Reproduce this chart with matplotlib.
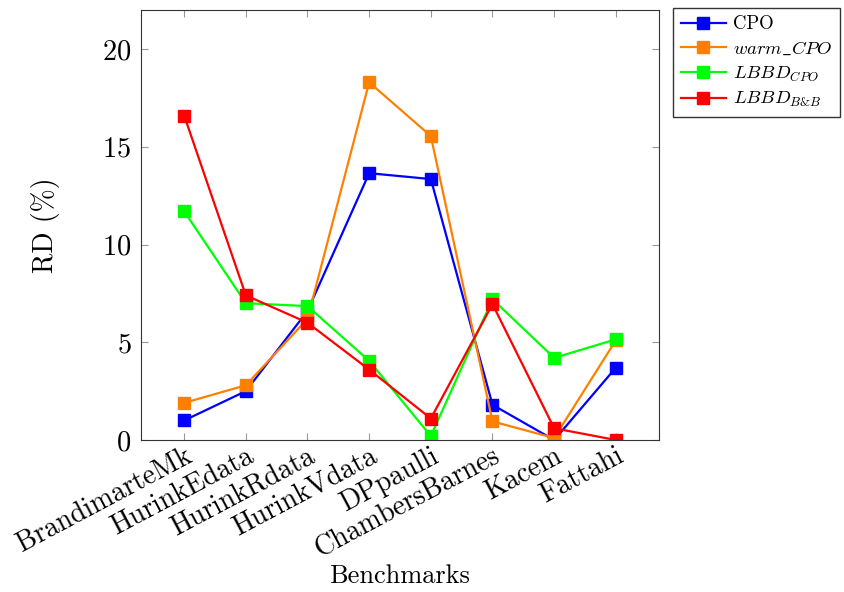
import matplotlib
matplotlib.use('Agg')
import matplotlib.pyplot as plt

plt.rcParams['font.family'] = 'serif'
plt.rcParams['font.serif'] = ['cmr10']
plt.rcParams['mathtext.fontset'] = 'cm'
plt.rcParams['axes.formatter.use_mathtext'] = True

benchmarks = ['BrandimarteMk', 'HurinkEdata', 'HurinkRdata', 'HurinkVdata',
              'DPpaulli', 'ChambersBarnes', 'Kacem', 'Fattahi']
cpo = [1.0, 2.5, 6.6, 13.65, 13.35, 1.8, 0.0, 3.7]
warm_cpo = [1.9, 2.8, 6.2, 18.3, 15.55, 0.95, 0.1, 5.1]
lbbd_cpo = [11.7, 7.0, 6.85, 4.05, 0.2, 7.2, 4.2, 5.15]
lbbd_bb = [16.6, 7.4, 6.0, 3.6, 1.1, 6.95, 0.6, 0.0]

series = [
    (cpo, 'CPO', '#0000ff'),
    (warm_cpo, r'$warm\_CPO$', '#ff8000'),
    (lbbd_cpo, r'$LBBD_{CPO}$', '#00ff00'),
    (lbbd_bb, r'$LBBD_{B&B}$', '#ff0000'),
]

fig = plt.figure(figsize=(8.45, 5.92), dpi=100)
ax = fig.add_axes([141/845, 1-440/592, (659-141)/845, (440-10)/592])

x = list(range(len(benchmarks)))
for vals, label, col in series:
    ax.plot(x, vals, color=col, lw=1.6, marker='s', markersize=8.5,
            markeredgecolor=col, label=label)

ax.set_xlim(-0.7, 7.7)
ax.set_ylim(0, 22)
ax.set_yticks([0, 5, 10, 15, 20])
ax.set_xticks(x)
ax.set_xticklabels(benchmarks, rotation=28, ha='right', rotation_mode='anchor')
ax.tick_params(direction='in', top=True, right=True, length=5, color='#999999',
               labelsize=20.5)
ax.tick_params(axis='x', labelsize=20, pad=2)
ax.tick_params(axis='y', pad=7)
ax.set_xlabel('Benchmarks', fontsize=19)
ax.xaxis.set_label_coords(0.5, -0.29)
ax.set_ylabel('RD (%)', fontsize=20, labelpad=30)
for s in ax.spines.values():
    s.set_color('#333333')

leg = ax.legend(loc='upper left', bbox_to_anchor=(673/845, 1-8/592),
                bbox_transform=fig.transFigure, borderaxespad=0, fancybox=False,
                edgecolor='#333333', fontsize=13.5, handlelength=2.4,
                handletextpad=0.4, labelspacing=0.35, framealpha=1)
leg.get_frame().set_linewidth(1.0)

fig.savefig('out.png', dpi=100)
